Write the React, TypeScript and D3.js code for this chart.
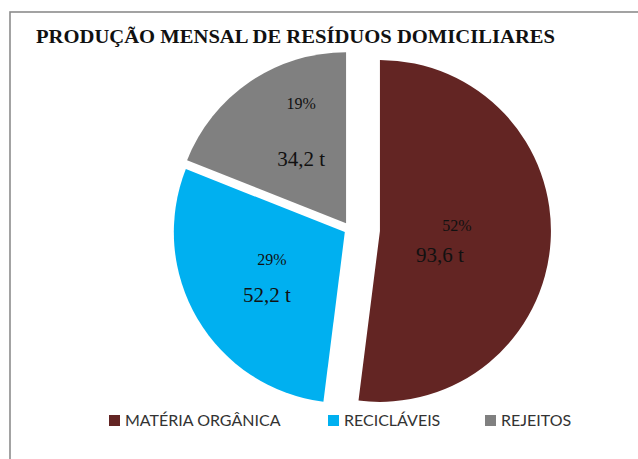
import React from "react";
import * as d3 from "d3";

const categories = ["MATÉRIA ORGÂNICA", "RECICLÁVEIS", "REJEITOS"];
const tonnes = [93.6, 52.2, 34.2];
const percentLabels = ["52%", "29%", "19%"];
const tonneLabels = ["93,6 t", "52,2 t", "34,2 t"];
const colors = ["#632523", "#00B0F0", "#808080"];
const explode = [30, 6, 7];
const title = "PRODUÇÃO MENSAL DE RESÍDUOS DOMICILIARES";

const W = 638;
const H = 459;
const cx = 350;
const cy = 229;
const R = 171;

const pctPos: [number, number][] = [[77, 0], [-73, 33], [-45, -114]];
const tPos: [number, number][] = [[60, 31], [-78, 70], [-45, -57]];

export default function App() {
  const pie = d3.pie<number>().value((d) => d).sort(null);
  const arcs = pie(tonnes);
  const arcGen = d3.arc<d3.PieArcDatum<number>>().innerRadius(0).outerRadius(R);

  const legendX = [109, 328, 485];

  return (
    <svg
      width={W}
      height={H}
      style={{ position: "absolute", left: 0, top: 0, background: "#fff" }}
    >
      <rect x={10} y={12} width={700} height={500} fill="#fff" stroke="#8c8c8c" strokeWidth={1.6} />
      <text
        x={36}
        y={43}
        fontFamily="Liberation Serif, Times New Roman, serif"
        fontWeight="bold"
        fontSize={19}
        textLength={519}
        lengthAdjust="spacingAndGlyphs"
        fill="#111"
      >
        {title}
      </text>
      {arcs.map((a, i) => {
        const mid = (a.startAngle + a.endAngle) / 2;
        const dx = Math.sin(mid) * explode[i];
        const dy = -Math.cos(mid) * explode[i];
        const ax = cx + dx;
        const ay = cy + dy;
        return (
          <g key={i} transform={`translate(${ax},${ay})`}>
            <path d={arcGen(a) || ""} fill={colors[i]} />
            <text
              x={pctPos[i][0]}
              y={pctPos[i][1]}
              textAnchor="middle"
              fontFamily="Liberation Serif, Times New Roman, serif"
              fontSize={16}
              fill="#111"
            >
              {percentLabels[i]}
            </text>
            <text
              x={tPos[i][0]}
              y={tPos[i][1]}
              textAnchor="middle"
              fontFamily="Liberation Serif, Times New Roman, serif"
              fontSize={21}
              fill="#111"
            >
              {tonneLabels[i]}
            </text>
          </g>
        );
      })}
      {categories.map((c, i) => (
        <g key={c}>
          <rect x={legendX[i]} y={415} width={11} height={11} fill={colors[i]} />
          <text
            x={legendX[i] + 16}
            y={426}
            fontFamily="Lato, Open Sans, sans-serif"
            fontSize={16}
            fill="#333"
          >
            {c}
          </text>
        </g>
      ))}
    </svg>
  );
}
